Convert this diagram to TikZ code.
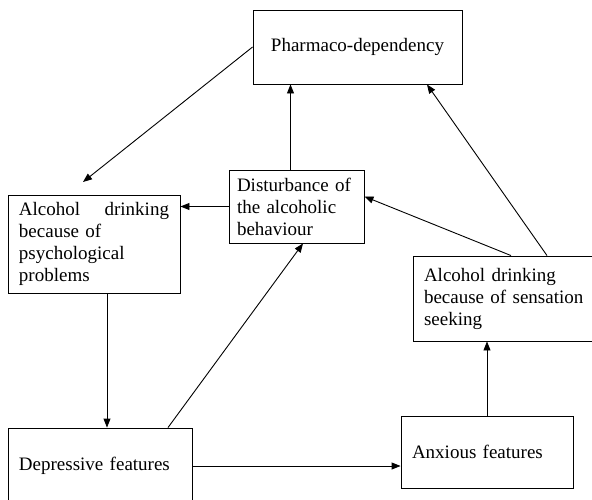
\documentclass[tikz,border=0pt]{standalone}
\usepackage{fontspec}
\setmainfont{Liberation Serif}
\usetikzlibrary{arrows.meta}
\begin{document}
\begin{tikzpicture}[
    x=1pt, y=-1pt,
    every node/.style={font=\fontsize{19}{22}\selectfont},
    box/.style={draw, line width=0.9pt, inner xsep=11pt, inner ysep=0pt, align=left}, % caixas de texto
    seta/.style={-{Triangle[length=9pt, width=7pt]}, line width=0.9pt} % setas cheias
    ]
    \useasboundingbox (0,0) rectangle (592,499);
    \node[box, minimum width=209pt, minimum height=74pt, align=center] (pharma) at (357.5,47) {Pharmaco-dependency};
    \node[box, text width=150pt, minimum height=98pt] (psych) at (94,244) {Alcohol\hfill drinking\\because of\\psychological\\problems};
    \node[box, inner xsep=8pt, text width=119pt, minimum height=73pt] (disturb) at (296.5,206.5) {Disturbance of\\the alcoholic\\behaviour};
    \node[box, text width=168pt, minimum height=85pt] (sensation) at (508,298.5) {Alcohol drinking\\because of sensation\\seeking};
    \node[box, text width=162pt, minimum height=76pt] (depress) at (100,466) {Depressive features};
    \node[box, text width=150pt, minimum height=72pt] (anxious) at (487,452) {Anxious features};
    \coordinate (psychtip) at (83,182);

    \draw[seta] (pharma.west) -- (psychtip);
    \draw[seta] ([xshift=-6pt]disturb.north) -- ([xshift=-6pt]disturb.north |- pharma.south);
    \draw[seta] (disturb.west) -- (disturb.west -| psych.east);
    \draw[seta] ([xshift=3pt]sensation.north) -- ([yshift=10pt]disturb.east);
    \draw[seta] ([xshift=39pt]sensation.north) -- ([xshift=69.5pt]pharma.south);
    \draw[seta] ([xshift=13pt]psych.south) -- ([xshift=13pt]psych.south |- depress.north);
    \draw[seta] ([xshift=68pt]depress.north) -- ([xshift=6.5pt]disturb.south);
    \draw[seta] (depress.east) -- (depress.east -| anxious.west);
    \draw[seta] (anxious.north) -- (anxious.north |- sensation.south);
\end{tikzpicture}
\end{document}
